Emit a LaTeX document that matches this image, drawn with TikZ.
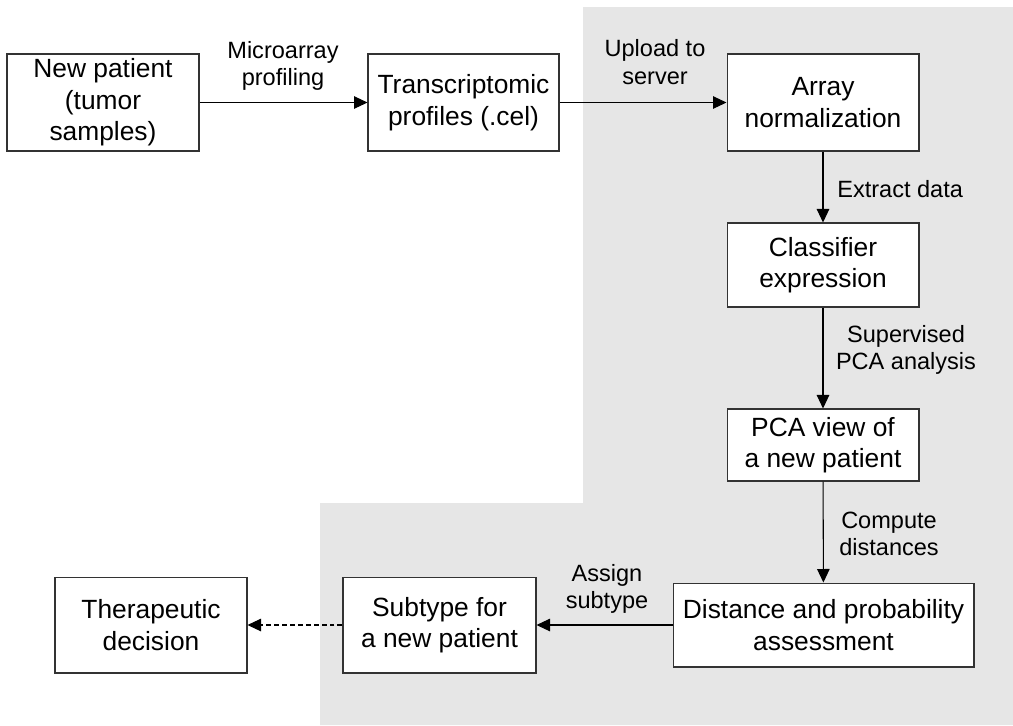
\documentclass[tikz,border=0pt]{standalone}
\usepackage{fontspec}
\setmainfont{Liberation Sans}
\usetikzlibrary{arrows.meta}
\definecolor{panelgray}{HTML}{E6E6E6}
\begin{document}
\begin{tikzpicture}[x=0.02cm, y=-0.02cm,
    box/.style={draw=black!80, line width=0.6pt, fill=white, align=center, inner sep=0pt, font=\fontsize{15}{18}\selectfont},
    lbl/.style={align=center, inner sep=0pt, font=\fontsize{13.4}{15.5}\selectfont},
    flow/.style={-{Triangle[length=0.27cm, width=0.25cm]}, line width=0.6pt}]
    \useasboundingbox (0,0) rectangle (1013,725);

    % server side (grey panel)
    \fill[panelgray] (583,7) -- (1013,7) -- (1013,725) -- (320,725) -- (320,503) -- (583,503) -- cycle;

    % top row
    \node[box, minimum width=3.84cm, minimum height=1.94cm] (patient) at (103,102.5) {New patient\\(tumor\\samples)};
    \node[box, minimum width=3.82cm, minimum height=1.94cm] (profiles) at (463.5,102.5) {Transcriptomic\\profiles (.cel)};
    \node[box, minimum width=3.84cm, minimum height=1.94cm] (norm) at (823,102.5) {Array\\normalization};

    % right column
    \node[box, minimum width=3.84cm, minimum height=1.68cm] (classifier) at (823,265) {Classifier\\expression};
    \node[box, minimum width=3.84cm, minimum height=1.44cm] (pcaview) at (823,445) {PCA view of\\a new patient};

    % bottom row
    \node[box, minimum width=6.02cm, minimum height=1.68cm] (distance) at (823.5,625) {Distance and probability\\assessment};
    \node[box, minimum width=3.86cm, minimum height=1.92cm] (subtype) at (439.5,625) {Subtype for\\a new patient};
    \node[box, minimum width=3.84cm, minimum height=1.92cm] (therapy) at (151,625) {Therapeutic\\decision};

    % connectors
    \draw[flow] (patient) -- (profiles);
    \draw[flow] (profiles) -- (norm);
    \draw[flow] (norm) -- (classifier);
    \draw[flow] (classifier) -- (pcaview);
    \draw[flow] (pcaview) -- (distance);
    \draw[flow] (distance) -- (subtype);
    \draw[flow, dash pattern=on 0.1cm off 0.06cm] (subtype) -- (therapy);

    % connector labels
    \node[lbl] (lblprofiling) at (283,66) {Microarray\\profiling};
    \node[lbl] (lblupload) at (655,62) {Upload to\\server};
    \node[lbl, anchor=west] (lblextract) at (837,189) {Extract data};
    \node[lbl] (lblpca) at (906,350) {Supervised\\PCA analysis};
    \node[lbl] (lblcompute) at (889,534) {Compute\\distances};
    \node[lbl] (lblassign) at (607,589) {Assign\\subtype};
\end{tikzpicture}
\end{document}
